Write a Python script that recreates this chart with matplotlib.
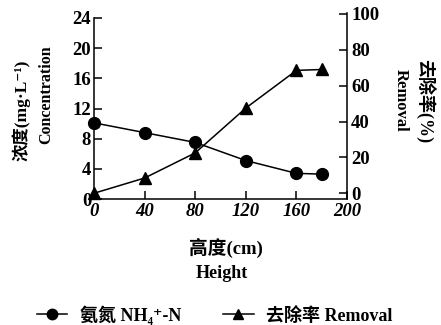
import matplotlib
matplotlib.use('Agg')
import matplotlib.pyplot as plt
from matplotlib.lines import Line2D

height = [0, 40, 80, 120, 160, 180]
nh4_conc = [10.1, 8.8, 7.5, 5.1, 3.4, 3.3]
removal = [0, 8.5, 22.5, 47.5, 68.5, 69]

x_ticks = [0, 40, 80, 120, 160, 200]
conc_ticks = [0, 4, 8, 12, 16, 20, 24]
rem_ticks = [0, 20, 40, 60, 80, 100]

FAM = ['Liberation Serif', 'Noto Sans CJK SC', 'DejaVu Serif']
plt.rcParams['font.family'] = FAM
plt.rcParams['font.weight'] = 'bold'

W, H = 441, 325
fig = plt.figure(figsize=(W / 100, H / 100), dpi=100)

x0, x1 = 94, 347
ax = fig.add_axes([x0 / W, 1 - 199 / H, (x1 - x0) / W, 181 / H])
# removal axis sits a few pixels higher than the concentration axis
ax2 = fig.add_axes([x0 / W, 1 - 199 / H, (x1 - x0) / W, 186 / H])
ax2.patch.set_visible(False)

line_kw = dict(color='black', lw=1.1, clip_on=False)
ax.plot(height, nh4_conc, marker='o', ms=8.5, **line_kw)
ax2.plot(height, removal, marker='^', ms=8.5, **line_kw)

ax.set_xlim(0, 200)
ax2.set_xlim(0, 200)
ax.set_ylim(0, 24)
ax2.set_ylim(-3.2, 100.5)

ax.set_xticks(x_ticks)
ax.set_yticks(conc_ticks)
ax2.set_yticks(rem_ticks)

for s in ['top', 'right']:
    ax.spines[s].set_visible(False)
for s in ['top', 'left', 'bottom']:
    ax2.spines[s].set_visible(False)
for a in (ax, ax2):
    for s in a.spines.values():
        s.set_linewidth(1.1)

ax.tick_params(axis='both', direction='in', length=5.5, width=1.1, labelsize=13.5, pad=3)
ax.tick_params(axis='y', pad=2)
ax2.tick_params(axis='y', direction='in', length=5.5, width=1.1, labelsize=13.5,
                left=False, labelleft=False, right=True, labelright=True, pad=3)
ax2.tick_params(axis='x', bottom=False, labelbottom=False)

for t in ax.get_xticklabels():
    t.set_fontstyle('italic')
    t.set_fontweight('bold')
for t in ax.get_yticklabels() + ax2.get_yticklabels():
    t.set_fontweight('bold')

fig.text(21 / W, 1 - 110 / H, '浓度(mg·L⁻¹)', rotation=90, ha='center', va='center',
         fontsize=12.5, fontweight='bold')
fig.text(46 / W, 1 - 95 / H, 'Concentration', rotation=90, ha='center', va='center',
         fontsize=11.5, fontweight='bold')
fig.text(424 / W, 1 - 101 / H, '去除率(%)', rotation=-90, ha='center', va='center',
         fontsize=13, fontweight='bold')
fig.text(401 / W, 1 - 100 / H, 'Removal', rotation=-90, ha='center', va='center',
         fontsize=12, fontweight='bold')
fig.text(226 / W, 1 - 248 / H, '高度(cm)', ha='center', va='center',
         fontsize=13.5, fontweight='bold')
fig.text(222 / W, 1 - 274 / H, 'Height', ha='center', va='center',
         fontsize=13, fontweight='bold')

handles = [
    Line2D([], [], color='black', lw=1.1, marker='o', ms=7.5),
    Line2D([], [], color='black', lw=1.1, marker='^', ms=7.5),
]
labels = ['氨氮 NH₄⁺-N', '去除率 Removal']
fig.legend(handles, labels, loc='center', bbox_to_anchor=(0.487, 1 - 315 / H), ncol=2,
           frameon=False, handlelength=1.7, handletextpad=0.7, columnspacing=2.3,
           prop=dict(family=FAM, weight='bold', size=13))

fig.savefig('out.png', dpi=100)
